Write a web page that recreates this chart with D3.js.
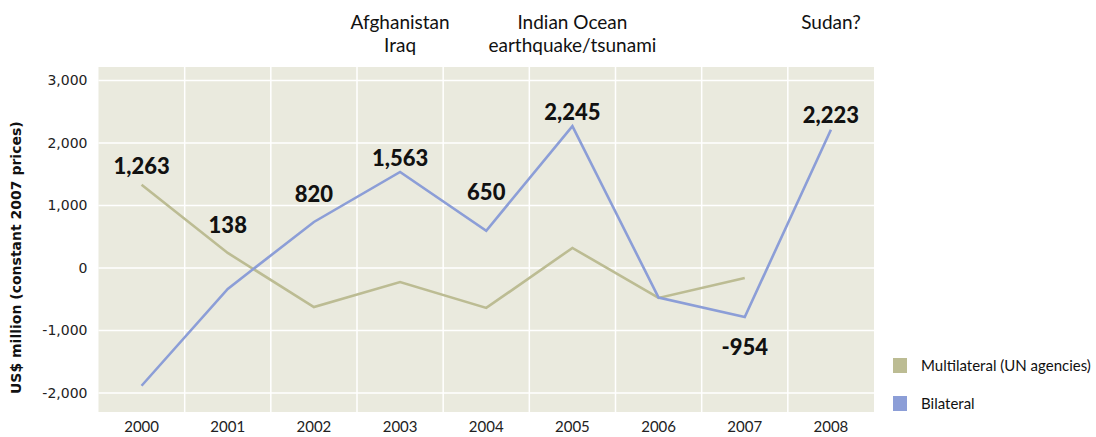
<!DOCTYPE html>
<html>
<head>
<meta charset="utf-8">
<script src="https://cdn.jsdelivr.net/npm/d3@7"></script>
<style>
  body { margin: 0; background: #fff; }
  svg { display: block; }
</style>
</head>
<body>
<div class="chart"></div>
<script>
const w = 1096;
const h = 437;

// data
const years = ['2000', '2001', '2002', '2003', '2004', '2005', '2006', '2007', '2008'];
const multilateral = [1330, 240, -625, -225, -640, 320, -480, -160, null];
const bilateral = [-1885, -335, 735, 1535, 595, 2270, -475, -785, 2210];
const yTicks = [-2000, -1000, 0, 1000, 2000, 3000];

// value labels: text, year, series
const labelTexts = ['1,263', '138', '820', '1,563', '650', '2,245', '-954', '2,223'];
const labelYears = ['2000', '2001', '2002', '2003', '2004', '2005', '2007', '2008'];
const labelSeries = ['m', 'm', 'b', 'b', 'b', 'b', 'b', 'b'];

const events = [
  { year: '2003', lines: ['Afghanistan', 'Iraq'] },
  { year: '2005', lines: ['Indian Ocean', 'earthquake/tsunami'] },
  { year: '2008', lines: ['Sudan?'] }
];

const legendNames = ['Multilateral (UN agencies)', 'Bilateral'];
const colors = { m: '#bcbc93', b: '#8c9ed7' };

const plotLeft = 98.5, plotRight = 874, plotTop = 67, plotBottom = 412;

const svg = d3.select('.chart').append('svg').attr('width', w).attr('height', h);

const xScale = d3.scaleBand().domain(years).range([plotLeft, plotRight]).padding(0);
const xc = (d) => xScale(d) + xScale.bandwidth() / 2;

const yScale = d3.scaleLinear().domain([-2305, 3215]).range([plotBottom, plotTop]);

// background
svg.append('rect')
  .attr('x', plotLeft).attr('y', plotTop)
  .attr('width', plotRight - plotLeft).attr('height', plotBottom - plotTop)
  .attr('fill', '#eaeade');

// horizontal grid
svg.append('g')
  .selectAll('line')
  .data(yTicks)
  .enter()
  .append('line')
  .attr('x1', plotLeft).attr('x2', plotRight)
  .attr('y1', (d) => yScale(d)).attr('y2', (d) => yScale(d))
  .attr('stroke', '#fff').attr('stroke-width', 1.5);

// vertical grid at band edges
svg.append('g')
  .selectAll('line')
  .data(years.slice(1))
  .enter()
  .append('line')
  .attr('x1', (d) => xScale(d)).attr('x2', (d) => xScale(d))
  .attr('y1', plotTop).attr('y2', plotBottom)
  .attr('stroke', '#fff').attr('stroke-width', 1.5);

// Left axis
const fmt = d3.format(',');
const yAxis = d3.axisLeft(yScale).tickValues(yTicks).tickSize(0).tickPadding(11)
  .tickFormat((d) => fmt(d).replace('\u2212', '-'));
const gy = svg.append('g').attr('transform', `translate(${plotLeft},0)`).call(yAxis);
gy.select('.domain').remove();
gy.selectAll('text')
  .attr('font-family', 'DejaVu Sans, Verdana, sans-serif')
  .attr('font-size', 14)
  .attr('fill', '#222');

// Bottom axis
const xAxis = d3.axisBottom(xScale).tickSize(0).tickPadding(9);
const gx = svg.append('g').attr('transform', `translate(0,${plotBottom})`).call(xAxis);
gx.select('.domain').remove();
gx.selectAll('text')
  .attr('font-family', 'Lato, sans-serif')
  .attr('font-size', 15)
  .attr('fill', '#222');

// y title
svg.append('text')
  .attr('transform', `translate(21,${(yScale(-2000) + yScale(3000)) / 2 + 21}) rotate(-90)`)
  .attr('text-anchor', 'middle')
  .attr('font-family', 'DejaVu Sans, Verdana, sans-serif')
  .attr('font-weight', 'bold')
  .attr('font-size', 14)
  .attr('fill', '#111')
  .text('US$ million (constant 2007 prices)');

// lines
const line = d3.line()
  .defined((d) => d[1] !== null)
  .x((d) => xc(d[0]))
  .y((d) => yScale(d[1]));

[['m', multilateral], ['b', bilateral]].forEach(([k, vals]) => {
  svg.append('path')
    .datum(years.map((y, i) => [y, vals[i]]))
    .attr('d', line)
    .attr('fill', 'none')
    .attr('stroke', colors[k])
    .attr('stroke-width', 2.6)
    .attr('stroke-linejoin', 'miter');
});

// value labels
const labelDy = [-11, -20, -20, -6, -31, -6, 38, -7];
svg.append('g')
  .selectAll('text')
  .data(labelTexts)
  .enter()
  .append('text')
  .attr('x', (d, i) => xc(labelYears[i]))
  .attr('y', (d, i) => {
    const vals = labelSeries[i] === 'm' ? multilateral : bilateral;
    return yScale(vals[years.indexOf(labelYears[i])]) + labelDy[i];
  })
  .attr('text-anchor', 'middle')
  .attr('font-family', 'Lato, sans-serif')
  .attr('font-weight', 900)
  .attr('font-size', 22)
  .attr('fill', '#111')
  .text((d) => d);

// event annotations
events.forEach((e) => {
  e.lines.forEach((t, j) => {
    svg.append('text')
      .attr('x', xc(e.year))
      .attr('y', 29 + j * 23)
      .attr('text-anchor', 'middle')
      .attr('font-family', 'Lato, sans-serif')
      .attr('font-size', 19)
      .attr('fill', '#111')
      .text(t);
  });
});

// legend
const lg = svg.append('g');
legendNames.forEach((n, i) => {
  const y0 = 358 + i * 38;
  lg.append('rect')
    .attr('x', 893).attr('y', y0)
    .attr('width', 14).attr('height', 15)
    .attr('fill', i === 0 ? colors.m : colors.b);
  lg.append('text')
    .attr('x', 921).attr('y', y0 + 13)
    .attr('font-family', 'Lato, sans-serif')
    .attr('font-size', 15)
    .attr('fill', '#111')
    .text(n);
});
</script>
</body>
</html>
